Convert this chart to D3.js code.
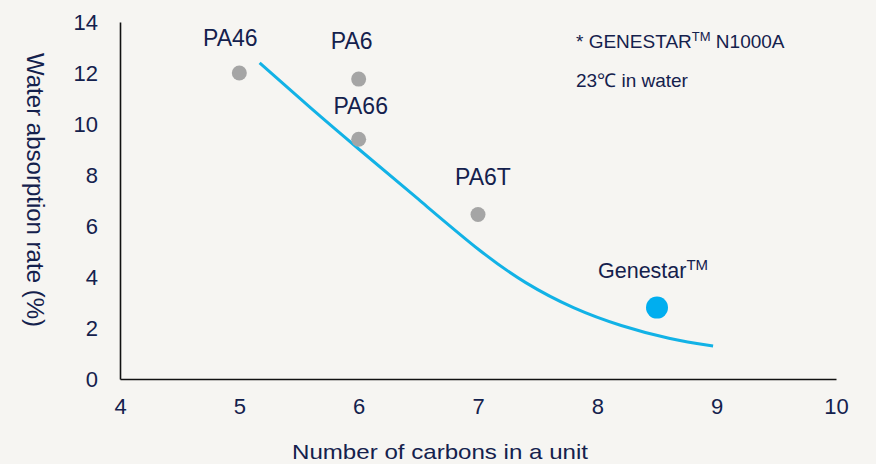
<!DOCTYPE html>
<html><head><meta charset="utf-8">
<script src="https://cdn.jsdelivr.net/npm/d3@7"></script>
<style>
html,body{margin:0;padding:0;background:#f6f5f2;}
svg{display:block;font-family:"Liberation Sans",Arial,sans-serif;}
</style></head><body>
<svg id="c" width="876" height="464"></svg>
<script>
const materials = ["PA46","PA6","PA66","PA6T"];
const carbons = [5, 6, 6, 7];
const absorption = [12.0, 11.76, 9.4, 6.45];
const genestarCarbons = [8.5];
const genestarAbsorption = [2.8];
const curveX = [5.17, 5.6, 6.0, 6.5, 7.0, 7.4, 7.8, 8.2, 8.6, 8.97];
const curveY = [12.40, 10.62, 9.02, 7.05, 5.1, 3.78, 2.8, 2.1, 1.6, 1.29];
const xTicks = [4,5,6,7,8,9,10];
const yTicks = [0,2,4,6,8,10,12,14];

const svg = d3.select("#c");
const ink = "#14214d";
const x = d3.scaleLinear().domain([4,10]).range([120,836]);
const y = d3.scaleLinear().domain([0,14]).range([379,22]);

// axes
const xa = svg.append("g").attr("transform","translate(0,379)")
  .call(d3.axisBottom(x).tickValues(xTicks).tickSize(0).tickPadding(24).tickFormat(d3.format("d")));
const ya = svg.append("g").attr("transform","translate(120,0)")
  .call(d3.axisLeft(y).tickValues(yTicks).tickSize(0).tickPadding(22).tickFormat(d3.format("d")));
[xa,ya].forEach(g=>{
  g.select(".domain").attr("stroke","#111").attr("stroke-width",1.6);
  g.selectAll("text").attr("fill",ink).attr("font-size",22).attr("font-family","Liberation Sans, Arial, sans-serif");
});
xa.selectAll("text").attr("dy","0.5em");

// titles
svg.append("text").attr("x",440).attr("y",459).attr("text-anchor","middle")
  .attr("fill",ink).attr("font-size",21).attr("textLength",296).attr("lengthAdjust","spacingAndGlyphs")
  .text("Number of carbons in a unit");
svg.append("text").attr("transform","translate(27,190) rotate(90)").attr("text-anchor","middle")
  .attr("fill",ink).attr("font-size",23).attr("textLength",274).attr("lengthAdjust","spacingAndGlyphs")
  .text("Water absorption rate (%)");

// curve
const pts = curveX.map((d,i)=>[d,curveY[i]]);
svg.append("path").datum(pts)
  .attr("d", d3.line().x(d=>x(d[0])).y(d=>y(d[1])).curve(d3.curveNatural))
  .attr("fill","none").attr("stroke","#12b2e6").attr("stroke-width",3);

// points
svg.selectAll("circle.m").data(materials).enter().append("circle")
  .attr("cx",(d,i)=>x(carbons[i])).attr("cy",(d,i)=>y(absorption[i])).attr("r",7.5)
  .attr("fill","#a5a5a5");
svg.selectAll("circle.g").data(genestarCarbons).enter().append("circle")
  .attr("cx",d=>x(d)).attr("cy",(d,i)=>y(genestarAbsorption[i])).attr("r",11)
  .attr("fill","#00aeef");

// point labels
const labelOff = [[-9,-27],[-7,-30],[2,-25],[5,-30]];
svg.selectAll("text.lab").data(materials).enter().append("text")
  .attr("x",(d,i)=>x(carbons[i])+labelOff[i][0]).attr("y",(d,i)=>y(absorption[i])+labelOff[i][1])
  .attr("text-anchor","middle").attr("fill",ink).attr("font-size",23).text(d=>d);

const gl = svg.append("text").attr("x",x(genestarCarbons[0])-59).attr("y",y(genestarAbsorption[0])-30)
  .attr("text-anchor","start").attr("fill",ink).attr("font-size",21.5);
gl.append("tspan").text("Genestar");
gl.append("tspan").attr("font-size",15).attr("dy",-8).text("TM");

// annotation
const a1 = svg.append("text").attr("x",576).attr("y",48).attr("fill",ink).attr("font-size",19);
a1.append("tspan").text("* GENESTAR");
a1.append("tspan").attr("font-size",13).attr("dy",-7).text("TM");
a1.append("tspan").attr("dy",7).text(" N1000A");
svg.append("text").attr("x",576).attr("y",87).attr("fill",ink).attr("font-size",19).text("23℃ in water");
</script>
</body></html>
